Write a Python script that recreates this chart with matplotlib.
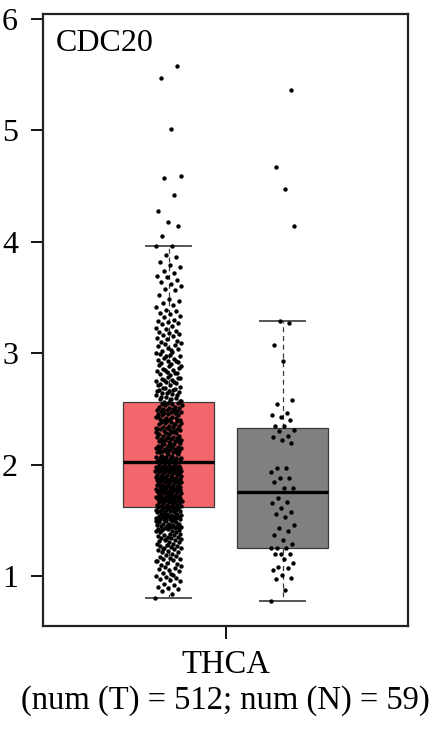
import numpy as np
import matplotlib
matplotlib.use("Agg")
import matplotlib.pyplot as plt

plt.rcParams['font.family'] = ['Liberation Serif', 'DejaVu Serif']

# 箱线统计量
groups = ['T', 'N']
box_q1 = [1.62, 1.25]
box_med = [2.02, 1.755]
box_q3 = [2.56, 2.33]
whisker_lo = [0.80, 0.77]
whisker_hi = [3.96, 3.29]
box_colors = ['#F2676B', '#808080']

# 肿瘤样本表达值 (512)
tumor_vals = [
    0.80, 0.84, 0.86, 0.88, 0.89,
    0.90, 0.92, 0.93, 0.95, 0.96, 0.97, 0.98, 0.99,
    1.00, 1.01, 1.03, 1.04, 1.05, 1.06, 1.07, 1.08, 1.09, 1.02,
    1.10, 1.11, 1.12, 1.13, 1.14, 1.15, 1.15, 1.16, 1.17, 1.18, 1.19, 1.13,
    1.20, 1.21, 1.21, 1.22, 1.23, 1.24, 1.25, 1.25, 1.26, 1.27, 1.27, 1.28, 1.29, 1.29, 1.24,
    1.30, 1.30, 1.31, 1.32, 1.32, 1.33, 1.34, 1.34, 1.35, 1.35, 1.36, 1.37, 1.37, 1.38, 1.38,
    1.39, 1.39, 1.33,
    1.40, 1.40, 1.41, 1.41, 1.42, 1.42, 1.43, 1.43, 1.44, 1.44, 1.45, 1.45, 1.45, 1.46, 1.46,
    1.47, 1.47, 1.47, 1.48, 1.48, 1.49, 1.49, 1.49, 1.42, 1.44, 1.46,
    1.50, 1.50, 1.50, 1.51, 1.51, 1.51, 1.52, 1.52, 1.52, 1.53, 1.53, 1.53, 1.54, 1.54, 1.54,
    1.55, 1.55, 1.55, 1.56, 1.56, 1.56, 1.57, 1.57, 1.57, 1.58, 1.58, 1.58, 1.59, 1.59, 1.59,
    1.60, 1.60, 1.61, 1.61,
    1.62, 1.62, 1.62, 1.63, 1.63, 1.63, 1.64, 1.64, 1.64, 1.65, 1.65, 1.65, 1.66, 1.66, 1.66,
    1.67, 1.67, 1.67, 1.68, 1.68, 1.68, 1.69, 1.69, 1.69,
    1.70, 1.70, 1.70, 1.71, 1.71, 1.71, 1.72, 1.72, 1.72, 1.73, 1.73, 1.73, 1.74, 1.74, 1.74,
    1.75, 1.75, 1.75, 1.76, 1.76, 1.76, 1.77, 1.77, 1.77, 1.78, 1.78, 1.78, 1.79, 1.79, 1.79,
    1.72, 1.75, 1.78,
    1.80, 1.80, 1.80, 1.81, 1.81, 1.81, 1.82, 1.82, 1.82, 1.83, 1.83, 1.83, 1.84, 1.84, 1.84,
    1.85, 1.85, 1.85, 1.86, 1.86, 1.86, 1.87, 1.87, 1.87, 1.88, 1.88, 1.88, 1.89, 1.89, 1.89,
    1.81, 1.83, 1.85, 1.87, 1.89,
    1.90, 1.90, 1.90, 1.91, 1.91, 1.91, 1.92, 1.92, 1.92, 1.93, 1.93, 1.93, 1.94, 1.94, 1.94,
    1.95, 1.95, 1.95, 1.96, 1.96, 1.96, 1.97, 1.97, 1.97, 1.98, 1.98, 1.98, 1.99, 1.99, 1.99,
    2.00, 2.00, 2.01, 2.01, 1.94, 1.97,
    2.02, 2.02, 2.03, 2.03, 2.04, 2.04, 2.05, 2.05, 2.06, 2.06, 2.07, 2.07, 2.08, 2.08, 2.09,
    2.09, 2.03, 2.04, 2.05, 2.06, 2.07, 2.08,
    2.10, 2.10, 2.11, 2.11, 2.12, 2.12, 2.13, 2.13, 2.14, 2.14, 2.15, 2.15, 2.16, 2.16, 2.17,
    2.17, 2.18, 2.18, 2.19, 2.19, 2.11, 2.12, 2.14, 2.15, 2.17, 2.18,
    2.20, 2.20, 2.21, 2.21, 2.22, 2.22, 2.23, 2.23, 2.24, 2.24, 2.25, 2.25, 2.26, 2.26, 2.27,
    2.27, 2.28, 2.28, 2.29, 2.29, 2.21, 2.23, 2.25, 2.27,
    2.30, 2.30, 2.31, 2.31, 2.32, 2.32, 2.33, 2.33, 2.34, 2.34, 2.35, 2.35, 2.36, 2.36, 2.37,
    2.37, 2.38, 2.38, 2.39, 2.39, 2.32, 2.36,
    2.40, 2.40, 2.41, 2.41, 2.42, 2.42, 2.43, 2.43, 2.44, 2.44, 2.45, 2.45, 2.46, 2.46, 2.47,
    2.47, 2.48, 2.48, 2.49, 2.49, 2.50, 2.50, 2.51, 2.51, 2.52, 2.52, 2.53, 2.53, 2.54, 2.54,
    2.55, 2.55, 2.43, 2.49,
    2.56, 2.57, 2.58, 2.59, 2.60, 2.61, 2.62, 2.63, 2.64, 2.65, 2.66, 2.67, 2.68, 2.69,
    2.57, 2.59, 2.61, 2.62, 2.64, 2.66, 2.67, 2.69,
    2.70, 2.71, 2.72, 2.73, 2.74, 2.75, 2.76, 2.77, 2.78, 2.79, 2.71, 2.74, 2.76, 2.78,
    2.80, 2.81, 2.82, 2.83, 2.84, 2.85, 2.86, 2.87, 2.88, 2.89, 2.82, 2.85, 2.88,
    2.90, 2.91, 2.92, 2.93, 2.94, 2.95, 2.96, 2.97, 2.98, 2.99, 2.93, 2.97,
    3.00, 3.01, 3.02, 3.04, 3.05, 3.06, 3.07, 3.08, 3.09, 3.03,
    3.10, 3.11, 3.13, 3.14, 3.15, 3.16, 3.17, 3.18, 3.19,
    3.20, 3.22, 3.23, 3.24, 3.26, 3.27, 3.28, 3.29,
    3.30, 3.32, 3.33, 3.35, 3.36, 3.38, 3.39,
    3.41, 3.43, 3.45, 3.47, 3.49,
    3.52, 3.57, 3.58, 3.60,
    3.62, 3.64, 3.66, 3.68, 3.69,
    3.72, 3.74, 3.77, 3.79,
    3.82, 3.86, 3.88, 3.96, 3.96,
    4.05, 4.14, 4.18, 4.28, 4.42, 4.57, 4.59, 5.01, 5.47, 5.58,
]

# 正常样本表达值 (59)
normal_vals = [
    0.77, 0.87, 0.97, 0.98, 1.01, 1.05, 1.07, 1.08, 1.12, 1.15,
    1.20, 1.20, 1.20, 1.25, 1.25, 1.25, 1.29, 1.32, 1.37, 1.40,
    1.43, 1.46, 1.53, 1.56, 1.57, 1.61, 1.65, 1.66, 1.70, 1.79,
    1.79, 1.84, 1.88, 1.88, 1.93, 1.97, 1.97, 2.19, 2.22, 2.25,
    2.26, 2.30, 2.31, 2.35, 2.35, 2.40, 2.43, 2.44, 2.46, 2.54,
    2.58, 2.93, 3.07, 3.27, 3.29, 4.14, 4.47, 4.67, 5.36,
]

gene_name = 'CDC20'
cancer = 'THCA'

fig = plt.figure(figsize=(4.35, 7.29), dpi=100)
ax = fig.add_axes([0.099, 0.1413, 0.839, 0.8395])

positions = [1, 2]
stats = []
for i in range(2):
    stats.append(dict(med=box_med[i], q1=box_q1[i], q3=box_q3[i],
                      whislo=whisker_lo[i], whishi=whisker_hi[i], fliers=[]))

bp = ax.bxp(stats, positions=positions, widths=0.8, patch_artist=True,
            showfliers=False,
            boxprops=dict(edgecolor='#3a3a3a', linewidth=0.9),
            whiskerprops=dict(color='#3a3a3a', linestyle=(0, (4, 3)), linewidth=0.9),
            capprops=dict(color='#555555', linewidth=1.4),
            medianprops=dict(color='black', linewidth=2.4))
for patch, c in zip(bp['boxes'], box_colors):
    patch.set_facecolor(c)

# 抖动散点
golden = 0.6180339887
for pos, vals, w in [(1, tumor_vals, 0.115), (2, normal_vals, 0.105)]:
    vals = np.array(vals)
    frac = (np.arange(len(vals)) * golden) % 1.0
    xs = pos + (frac - 0.5) * 2 * w
    ax.scatter(xs, vals, s=10, color='black', linewidths=0, zorder=5)

ax.set_xlim(-0.1, 3.1)
ax.set_ylim(0.55, 6.045)
ax.set_yticks([1, 2, 3, 4, 5, 6])
ax.set_xticks([1.5])
ax.set_xticklabels([f'{cancer}\n(num (T) = {len(tumor_vals)}; num (N) = {len(normal_vals)})'],
                   fontsize=23.5, linespacing=1.2)
ax.tick_params(axis='y', labelsize=23, length=9, width=1.3, pad=9)
ax.tick_params(axis='x', length=9, width=1.3, pad=8)
for s in ax.spines.values():
    s.set_linewidth(1.6)
    s.set_color('#222222')

ax.text(0.035, 0.975, gene_name, transform=ax.transAxes, fontsize=23,
        ha='left', va='top')

fig.savefig('out.png', dpi=100)
print(len(tumor_vals), len(normal_vals))
